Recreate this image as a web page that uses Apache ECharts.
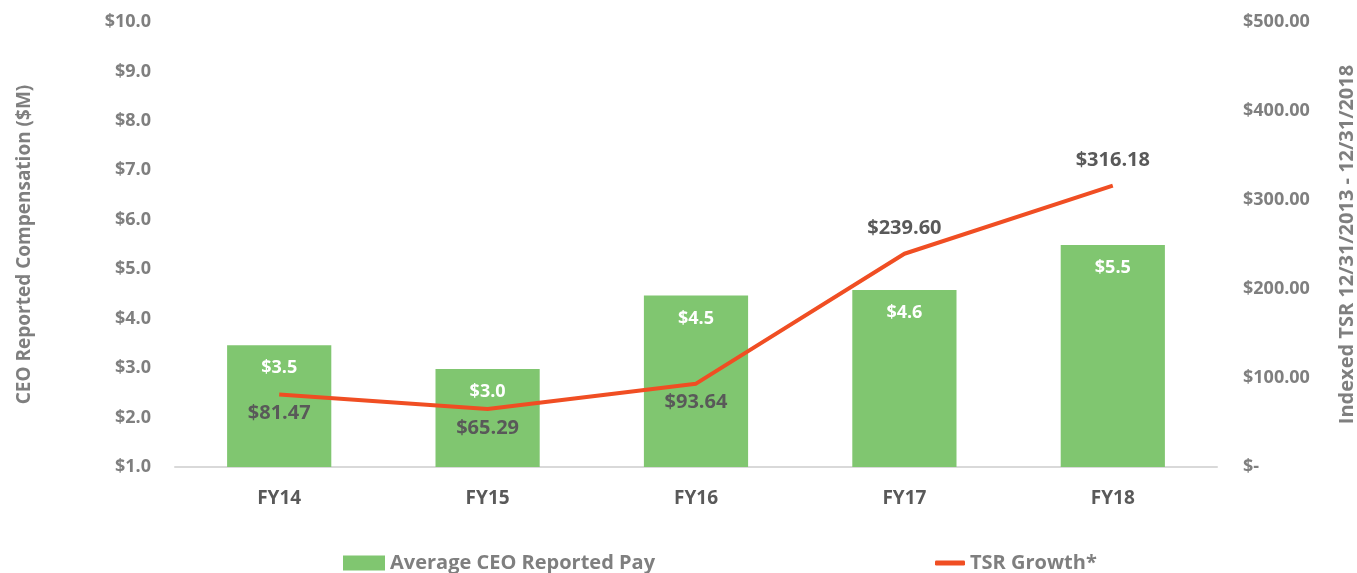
<!DOCTYPE html>
<html><head><meta charset="utf-8">
<script src="https://cdn.jsdelivr.net/npm/echarts@6/dist/echarts.min.js"></script>
<style>html,body{margin:0;padding:0;background:#fff}#c{width:1357px;height:573px}</style>
</head><body><div id="c"></div>
<script>
const categories = ['FY14','FY15','FY16','FY17','FY18'];
const ceoPay = [3.46, 2.98, 4.47, 4.58, 5.49];
const tsrGrowth = [81.47, 65.29, 93.64, 239.60, 316.18];
const tsrLabelBelow = [true, true, true, false, false];

const FONT = '"Open Sans", "Noto Sans", sans-serif';
const gray = '#7f7f7f';
const dark = '#595959';

const chart = echarts.init(document.getElementById('c'));
chart.setOption({
  animation: false,
  textStyle: { fontFamily: FONT },
  grid: { left: 175, right: 140, top: 22, bottom: 106, containLabel: false, outerBoundsMode: 'none' },
  legend: [
    { data: [{ name: 'Average CEO Reported Pay', icon: 'rect' }], left: 338, top: 548, itemWidth: 42, itemHeight: 15, itemGap: 8,
      textStyle: { fontFamily: FONT, fontSize: 20, fontWeight: 'bold', color: gray } },
    { data: [{ name: 'TSR Growth*', icon: 'roundRect' }], left: 930, top: 548, itemWidth: 30, itemHeight: 5,
      textStyle: { fontFamily: FONT, fontSize: 20, fontWeight: 'bold', color: gray } }
  ],
  xAxis: {
    type: 'category', data: categories,
    axisLine: { lineStyle: { color: '#d9d9d9', width: 2 } },
    axisTick: { show: false },
    axisLabel: { fontFamily: FONT, fontSize: 19, fontWeight: 'bold', color: dark, margin: 22 }
  },
  yAxis: [
    { type: 'value', min: 1, max: 10, interval: 1, position: 'left',
      name: 'CEO Reported Compensation ($M)', nameLocation: 'middle', nameGap: 141,
      nameTextStyle: { fontFamily: FONT, fontSize: 19, fontWeight: 'bold', color: gray },
      splitLine: { show: false }, axisLine: { show: false }, axisTick: { show: false },
      axisLabel: { fontFamily: FONT, fontSize: 18, fontWeight: 'bold', color: gray, margin: 24,
        formatter: v => '$' + v.toFixed(1) } },
    { type: 'value', min: 0, max: 500, interval: 100, position: 'right',
      name: 'Indexed TSR 12/31/2013 - 12/31/2018', nameLocation: 'middle', nameGap: 120, nameRotate: 90,
      nameTextStyle: { fontFamily: FONT, fontSize: 20, fontWeight: 'bold', color: gray },
      splitLine: { show: false }, axisLine: { show: false }, axisTick: { show: false },
      axisLabel: { fontFamily: FONT, fontSize: 18, fontWeight: 'bold', color: gray, margin: 26,
        formatter: v => v === 0 ? '$-' : '$' + v.toFixed(2) } }
  ],
  series: [
    { name: 'Average CEO Reported Pay', type: 'bar', yAxisIndex: 0, data: ceoPay, barWidth: '50%',
      itemStyle: { color: '#80c670' },
      label: { show: true, position: 'insideTop', distance: 14, color: '#fff', fontFamily: FONT,
        fontSize: 18, fontWeight: 'bold', formatter: p => '$' + p.value.toFixed(1) } },
    { name: 'TSR Growth*', type: 'line', yAxisIndex: 1,
      data: tsrGrowth.map((v, i) => ({ value: v, label: { position: tsrLabelBelow[i] ? 'bottom' : 'top', distance: tsrLabelBelow[i] ? 9 : 15 } })),
      symbol: 'circle', symbolSize: 0.1, showSymbol: true,
      lineStyle: { color: '#f04e23', width: 4 }, itemStyle: { color: '#f04e23' },
      label: { show: true, color: dark, fontFamily: FONT, fontSize: 20, fontWeight: 'bold',
        formatter: p => '$' + p.value.toFixed(2) } }
  ]
});
</script></body></html>
